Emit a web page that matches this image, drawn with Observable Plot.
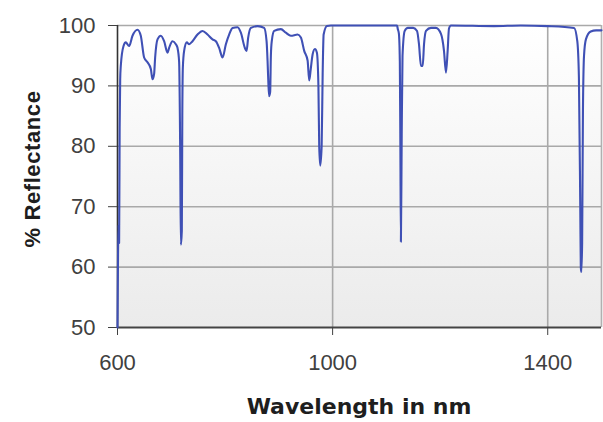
<!DOCTYPE html>
<html>
<head>
<meta charset="utf-8">
<script src="https://cdn.jsdelivr.net/npm/d3@7"></script>
<script src="https://cdn.jsdelivr.net/npm/@observablehq/plot@0.6"></script>
<style>
  html, body { margin: 0; padding: 0; background: #ffffff; }
  #chart { width: 603px; height: 422px; }
</style>
</head>
<body>
<div id="chart"></div>
<script>
// Wavelength (nm) sampled along the trace
const wavelength = [
  600, 601, 602, 603, 604, 605, 606.1, 611.2, 615.4, 621.6, 627.9, 637.2, 643.3, 649.5, 655.8,
  662, 665.1, 668.1, 670, 674.4, 680.6, 686.7, 693, 696, 702.3, 708.5, 711.6, 714.6, 716.5,
  717.8, 719.6, 720.5, 721.5, 723.9, 728.9, 733.2, 739.5, 748.8, 758.1, 767.4, 776.7, 782.9,
  789, 795.4, 801.5, 807.6, 814, 823.3, 829.4, 836.8, 840, 843, 848, 860.5, 872.7, 877.2,
  879.1, 880.5, 882, 883.9, 885.2, 887, 891.3, 903.8, 913.1, 922.4, 934.9, 941, 947.2, 953.5,
  956.5, 959.6, 962.8, 967.1, 970.8, 973.6, 975.1, 977, 979.6, 981.5, 983.3, 989.5, 996.8,
  1120, 1121, 1123.3, 1125, 1126, 1127, 1128.5, 1130, 1134, 1140, 1150, 1157, 1160.6, 1164.3,
  1167.5, 1170, 1173.6, 1182.9, 1192, 1201.5, 1207.1, 1210.8, 1213.9, 1216.4, 1220.1, 1300,
  1350, 1400, 1449, 1455, 1458, 1460.5, 1461.5, 1462.5, 1464, 1465.5, 1467.5, 1471, 1480,
  1490, 1500
];
// % Reflectance
const reflectance = [
  50, 62, 67, 64, 83, 91, 93.3, 96.6, 97.2, 96.6, 98.3, 99.3, 98.3, 94.7, 93.9,
  92.8, 91.1, 92, 94.7, 97.7, 98.3, 97.4, 95.5, 96.3, 97.4, 96.9, 96.3, 94, 80,
  63.7, 66, 85, 93, 95.8, 97.2, 96.9, 97.4, 98.5, 99.1, 98.5, 97.7, 97.4,
  96.3, 94.7, 96.9, 98.5, 99.6, 99.7, 98.8, 96.3, 95.8, 98, 99.6, 99.9, 99.6, 97.4,
  94, 90.6, 88.3, 89, 95, 97.5, 99.1, 99.4, 98.8, 98.3, 98.5, 98, 95.8, 94.2,
  90.9, 93, 95.2, 96.1, 95.5, 90, 80, 76.8, 80, 92, 98.5, 99.9, 100,
  100, 99.5, 98.6, 94, 80, 64.2, 82, 95, 99.1, 99.6, 99.6, 99.1, 96.9, 93.3,
  93.3, 96.9, 99.1, 99.6, 99.6, 98.6, 95.8, 92.2, 95.8, 99.5, 100, 99.9,
  100, 99.9, 99.6, 97.4, 91.4, 70, 60, 59.2, 64, 85.9, 95, 97.7, 99,
  99.2, 99.2
];

const xTicks = [600, 1000, 1400];
const yTicks = [50, 60, 70, 80, 90, 100];
const xGrid = [1000, 1400];
const yGrid = [60, 70, 80, 90, 100];
const xTitle = "Wavelength in nm";
const yTitle = "% Reflectance";

const data = wavelength.map((w, i) => ({w, r: reflectance[i]}));

const chart = Plot.plot({
  width: 603,
  height: 422,
  marginLeft: 117,
  marginRight: 2,
  marginTop: 25,
  marginBottom: 95,
  style: {fontFamily: "'Liberation Sans', Arial, sans-serif", fontSize: "22px", background: "transparent"},
  x: {domain: [600, 1500]},
  y: {domain: [50, 100]},
  marks: [
    Plot.frame({fill: "url(#bgGrad)", stroke: null}),
    Plot.ruleY(yGrid, {stroke: "#a9a9a9", strokeWidth: 1.6}),
    Plot.ruleX(xGrid, {stroke: "#a9a9a9", strokeWidth: 1.6}),
    Plot.ruleX([1500], {stroke: "#b0b0b0", strokeWidth: 1.6}),
    Plot.ruleX([600], {stroke: "#333333", strokeWidth: 1.6}),
    Plot.ruleY([50], {stroke: "#444444", strokeWidth: 2}),
    Plot.axisX({ticks: xTicks, tickSize: 8, tickPadding: 19, tickFormat: d => String(d), label: null, color: "#404040", fontSize: 22}),
    Plot.axisY({ticks: yTicks, tickSize: 9, tickPadding: 13, tickFormat: d => String(d), label: null, color: "#404040", fontSize: 22}),
    Plot.line(data, {x: "w", y: "r", stroke: "#3f50b5", strokeWidth: 2.1, curve: "monotone-x"})
  ]
});

const svg = d3.select(chart);
const defs = svg.insert("defs", ":first-child");
const grad = defs.append("linearGradient")
  .attr("id", "bgGrad").attr("x1", 0).attr("y1", 0).attr("x2", 0).attr("y2", 1);
grad.append("stop").attr("offset", "0%").attr("stop-color", "#ffffff");
grad.append("stop").attr("offset", "100%").attr("stop-color", "#ebebeb");

svg.append("text")
  .attr("x", 359).attr("y", 414)
  .attr("text-anchor", "middle")
  .style("font-family", "'DejaVu Sans', Verdana, sans-serif")
  .style("font-weight", "bold")
  .style("font-size", "22px")
  .attr("fill", "#1e1e1e")
  .text(xTitle);

svg.append("text")
  .attr("transform", "translate(40,169) rotate(-90)")
  .attr("text-anchor", "middle")
  .style("font-family", "'Liberation Sans', Arial, sans-serif")
  .style("font-weight", "bold")
  .style("font-size", "22px")
  .style("letter-spacing", "0.6px")
  .attr("fill", "#1e1e1e")
  .text(yTitle);

document.getElementById("chart").appendChild(chart);
</script>
</body>
</html>
